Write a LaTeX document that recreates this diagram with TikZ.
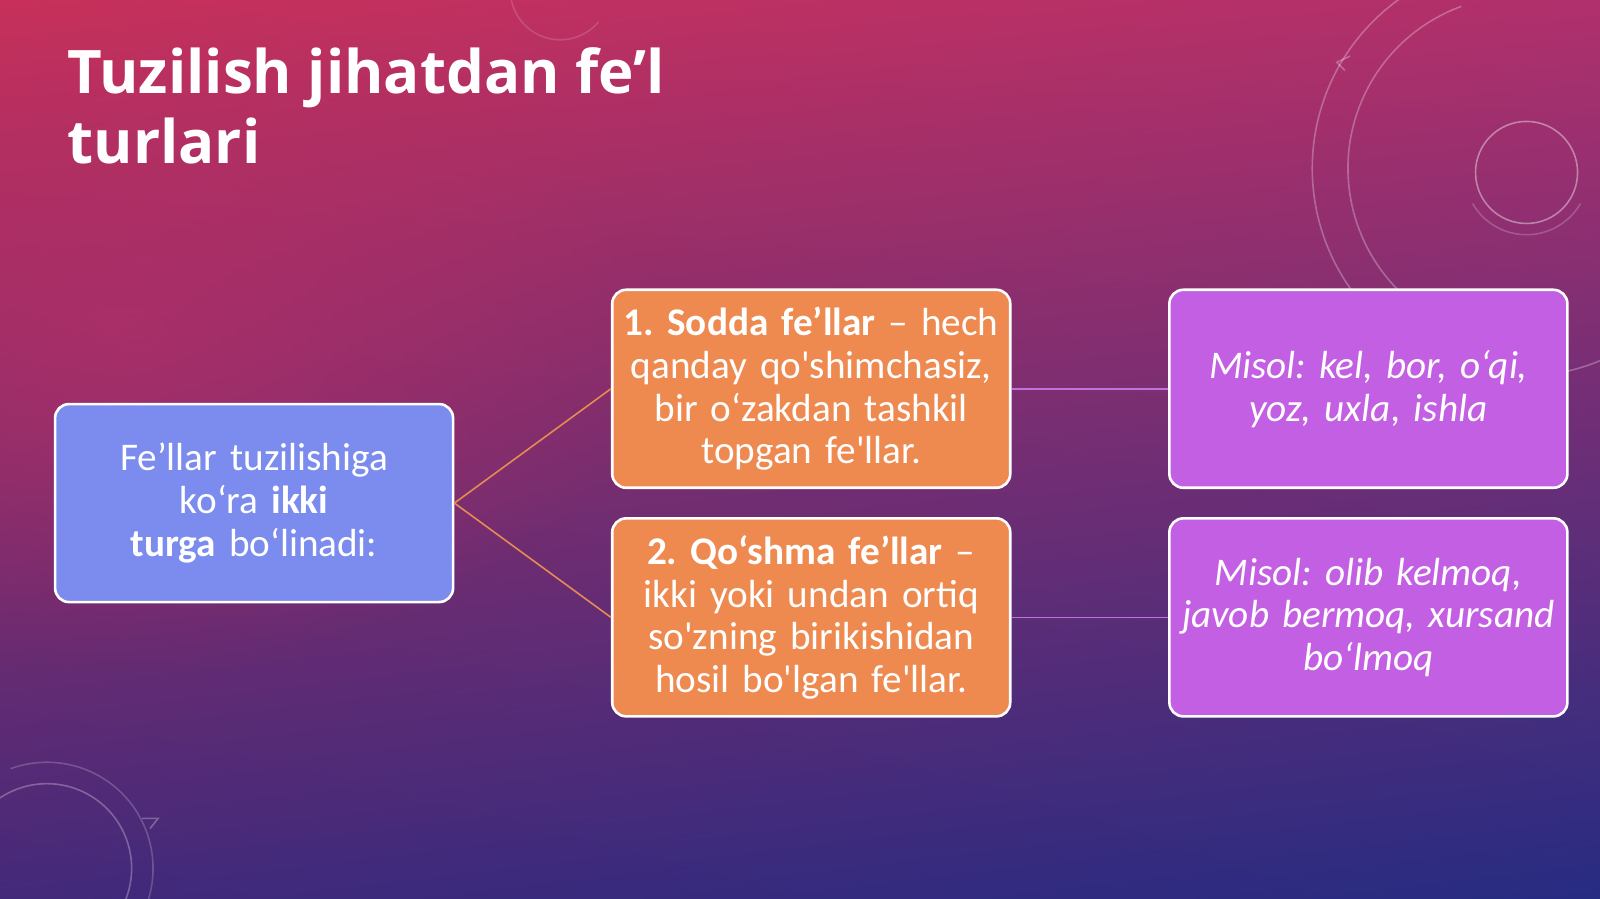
\documentclass[tikz,border=0pt]{standalone}
\usepackage{fontspec}
\setmainfont{Carlito}[Ligatures=TeXOff]
\newfontfamily\titlefont{Open Sans}
\usetikzlibrary{shadings,fadings}
\definecolor{bluefill}{HTML}{7B8CEE}
\definecolor{orfill}{HTML}{EE8A50}
\definecolor{pufill}{HTML}{C35FE2}
\definecolor{orline}{HTML}{E58C52}
\definecolor{puline}{HTML}{C272DC}
\definecolor{bgUL}{HTML}{C8305A}
\definecolor{bgUR}{HTML}{B0306C}
\definecolor{bgLL}{HTML}{43297A}
\definecolor{bgLR}{HTML}{262C82}
\definecolor{bgglow}{HTML}{B8306A}
\tikzfading[name=glowfade, inner color=transparent!0, outer color=transparent!100]
\tikzset{
  box/.style={draw=white, line width=1.3pt, rounded corners=7pt,
    minimum width=199pt, minimum height=99pt, text width=196pt,
    align=center, text=white, inner sep=0pt,
    font=\fontsize{19.6}{21.4}\selectfont\frenchspacing},
  bluebox/.style={box, fill=bluefill},
  orbox/.style={box, fill=orfill},
  pubox/.style={box, fill=pufill, font=\fontsize{19.6}{21.4}\selectfont\frenchspacing\itshape},
  orlink/.style={draw=orline, line width=0.8pt},
  pulink/.style={draw=puline, line width=0.8pt},
  deco/.style={draw=white, opacity=0.28, line width=0.8pt},
}
\begin{document}
\begin{tikzpicture}[x=0.5102pt,y=-0.5102pt]
\shade[upper left=bgUL, upper right=bgUR, lower left=bgLL, lower right=bgLR] (0,0) rectangle (1568,881);
\useasboundingbox (0,0) rectangle (1568,881);
\begin{scope}
\clip (0,0) rectangle (1568,881);
\fill[bgglow, opacity=0.55, path fading=glowfade] (120,330) ellipse[x radius=520, y radius=330];
% decorative circles top right
\draw[deco] (1490,165) ++(135:204) arc[start angle=135, end angle=255, radius=204];
\draw[deco] (1490,165) ++(65:204) arc[start angle=65, end angle=80, radius=204];
\draw[deco] (1490,165) ++(120:169) arc[start angle=120, end angle=250, radius=169];
\draw[deco, opacity=0.4] (1496,169) circle[radius=50];
\draw[deco, opacity=0.2] (1496,169) ++(150:61) arc[start angle=150, end angle=30, radius=61];
\draw[deco] (1323,55) -- (1310,61) -- (1318,69);
% top middle
\draw[deco, opacity=0.15] (549,-10) ++(170:49) arc[start angle=170, end angle=40, radius=49];
% bottom left
\draw[deco] (46,851) ++(200:83) arc[start angle=200, end angle=390, radius=83];
\draw[deco, opacity=0.2] (46,851) ++(250:104) arc[start angle=250, end angle=380, radius=104];
\draw[deco] (139,802) -- (155,802) -- (147,812);
\end{scope}

\node[anchor=base west, align=left, text=white, inner sep=0pt,
  font=\titlefont\bfseries\fontsize{30}{34.7}\selectfont] (title) at (66,160)
  {Tuzilish jihatdan fe’l\\turlari};

\node[bluebox] (root) at (249,493)
  {Fe’llar tuzilishiga\\ko‘ra \textbf{ikki}\\\textbf{turga} bo‘linadi:};
\node[orbox] (s1) at (795,381)
  {\textbf{1. Sodda fe’llar} – hech\\qanday qo'shimchasiz,\\bir o‘zakdan tashkil\\topgan fe'llar.};
\node[orbox] (s2) at (795,605)
  {\textbf{2. Qo‘shma fe’llar} –\\ikki yoki undan ortiq\\so'zning birikishidan\\hosil bo'lgan fe'llar.};
\node[pubox] (m1) at (1341,381)
  {Misol: kel, bor, o‘qi,\\yoz, uxla, ishla};
\node[pubox] (m2) at (1341,605)
  {Misol: olib kelmoq,\\javob bermoq, xursand\\bo‘lmoq};

\draw[orlink] (root.east) -- (s1.west);
\draw[orlink] (root.east) -- (s2.west);
\draw[pulink] (s1.east) -- (m1.west);
\draw[pulink] (s2.east) -- (m2.west);
\end{tikzpicture}
\end{document}
